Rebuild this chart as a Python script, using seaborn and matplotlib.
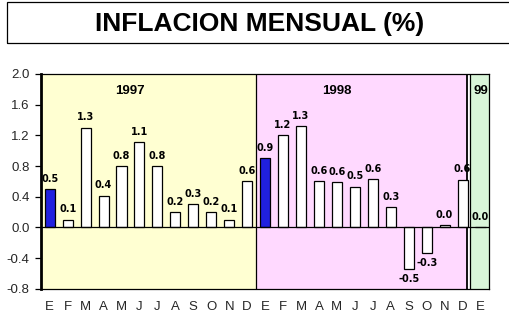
import matplotlib
matplotlib.use("Agg")
import matplotlib.pyplot as plt
import seaborn as sns
import pandas as pd
from matplotlib.patches import Rectangle

# ---- data ----
months = ["E", "F", "M", "A", "M", "J", "J", "A", "S", "O", "N", "D",
          "E", "F", "M", "A", "M", "J", "J", "A", "S", "O", "N", "D",
          "E"]
values_1997 = [0.50, 0.10, 1.30, 0.41, 0.80, 1.11, 0.80, 0.20, 0.30, 0.20, 0.10, 0.60]
values_1998 = [0.90, 1.20, 1.32, 0.60, 0.59, 0.53, 0.63, 0.26, -0.54, -0.33, 0.03, 0.62]
values_1999 = [0.0]
year_labels = ["1997", "1998", "99"]
title = "INFLACION MENSUAL (%)"
yticks = [-0.8, -0.4, 0.0, 0.4, 0.8, 1.2, 1.6, 2.0]

values = values_1997 + values_1998 + values_1999
df = pd.DataFrame({
    "pos": list(range(len(values))),
    "valor": values,
    "enero": [m == "E" and i < 24 for i, m in enumerate(months)],
})

sns.set_theme(style="white")
plt.rcParams["font.family"] = ["Liberation Sans", "DejaVu Sans"]

fig = plt.figure(figsize=(5.10, 3.24), dpi=100)
ax = fig.add_axes([40.7 / 510, 1 - 288.8 / 324, (489.5 - 40.7) / 510, (288.8 - 74) / 324])

# background regions per year
ax.axvspan(-0.5, 11.5, color="#FFFFD2", zorder=0, lw=0)
ax.axvspan(11.5, 23.25, color="#FFD9FF", zorder=0, lw=0)
ax.axvspan(23.39, 24.5, color="#D9F5D9", zorder=0, lw=0)
ax.axvline(11.5, color="black", lw=0.9, zorder=1)
ax.axvline(23.25, color="black", lw=1.3, zorder=1)
ax.axvline(23.39, color="black", lw=0.9, zorder=1)

sns.barplot(data=df, x="pos", y="valor", hue="enero",
            palette={True: "#0000FF", False: "white"}, dodge=False,
            legend=False, width=0.56, edgecolor="black", linewidth=0.9,
            ax=ax, zorder=3)

ax.axhline(0, color="black", lw=0.9, zorder=4)

# value labels
lab_font = dict(fontsize=7, fontweight="bold", color="black", zorder=5,
                family=["DejaVu Sans"])
for i, v in enumerate(values):
    txt = f"{v:.1f}"
    if v >= 0:
        ax.annotate(txt, (i, v), xytext=(0, 4), textcoords="offset points",
                    ha="center", va="bottom", **lab_font)
    else:
        ax.annotate(txt, (i, v), xytext=(0, -4), textcoords="offset points",
                    ha="center", va="top", **lab_font)

# year labels
for xpos, lab in zip([4.45, 16.0, 24.0], year_labels):
    ax.text(xpos, 1.78, lab, ha="center", va="center", fontsize=9.5,
            fontweight="bold", color="black", zorder=5)

ax.set_xlim(-0.5, 24.5)
ax.set_ylim(-0.8, 2.0)
ax.set_yticks(yticks)
ax.set_yticklabels([f"{t:.1f}" for t in yticks], fontsize=9.5)
ax.set_xticks(range(len(months)))
ax.set_xticklabels(months, fontsize=9.5)
ax.set_xlabel("")
ax.set_ylabel("")
ax.tick_params(axis="y", length=4, width=0.9, direction="out", pad=4, color="black", left=True)
ax.tick_params(axis="x", length=0, pad=9)
ax.grid(False)
for side, sp in ax.spines.items():
    sp.set_color("black")
    sp.set_linewidth(0.9)
    sp.set_zorder(6)
ax.spines["left"].set_linewidth(2.0)

# title box
fig.patches.append(Rectangle((7 / 510, 1 - 43 / 324), 520 / 510, 41 / 324,
                             transform=fig.transFigure, fill=False,
                             edgecolor="black", lw=0.9))
fig.text(259.5 / 510, 1 - 23.5 / 324, title, ha="center", va="center",
         fontsize=19, fontweight="bold", color="black")

fig.savefig("out.png", dpi=100)
